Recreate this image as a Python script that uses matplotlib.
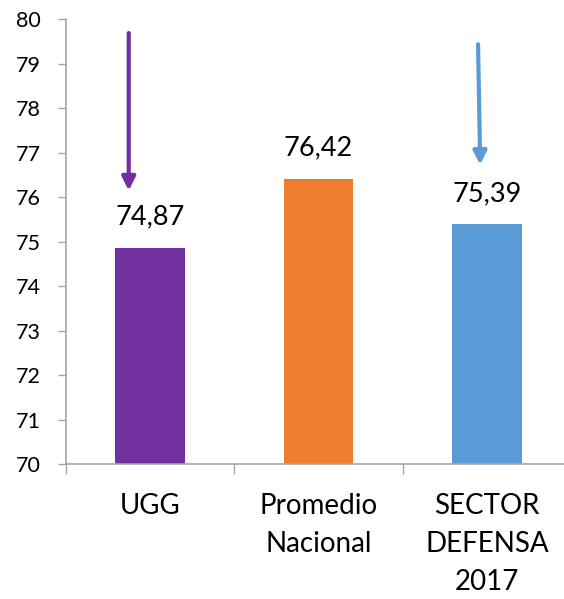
import matplotlib
matplotlib.use('Agg')
import matplotlib.pyplot as plt
import numpy as np

# chart data
categories = ['UGG', 'Promedio\nNacional', 'SECTOR\nDEFENSA\n2017']
values = [74.87, 76.42, 75.39]
value_labels = ['74,87', '76,42', '75,39']
bar_colors = ['#7030A0', '#ED7D31', '#5B9BD5']
y_ticks = list(range(70, 81))

# arrows (x offset from category, y start, y end)
arrow_x = [(-0.126, -0.126), (1.947, 1.96)]
arrow_y = [(79.69, 76.15), (79.44, 76.73)]
arrow_colors = ['#7030A0', '#5B9BD5']

plt.rcParams['font.family'] = ['Lato', 'DejaVu Sans']

fig = plt.figure(figsize=(5.64, 5.99), dpi=100)
ax = fig.add_axes([0.1165, 0.2249, 0.8963, 0.7429])

x_pos = np.arange(len(categories))
ax.bar(x_pos, np.array(values) - 70, bottom=70, width=0.41, color=bar_colors)

for i, v in enumerate(values):
    ax.annotate(value_labels[i], (x_pos[i], v), xytext=(0, 13),
                textcoords='offset points', ha='center', va='bottom',
                fontsize=19.5)

for (x0, x1), (y0, y1), c in zip(arrow_x, arrow_y, arrow_colors):
    ax.annotate('', xy=(x1, y1), xytext=(x0, y0),
                arrowprops=dict(arrowstyle='-|>,head_width=0.4,head_length=0.8',
                                color=c, lw=3, shrinkA=0, shrinkB=0))

ax.set_xlim(-0.5, 2.5)
ax.set_ylim(70, 80)
ax.set_yticks(y_ticks)
ax.set_xticks(x_pos)
ax.set_xticklabels(categories, fontsize=20, linespacing=1.55)
ax.set_xticks([-0.5, 0.5, 1.5, 2.5], minor=True)
ax.tick_params(axis='x', which='major', length=0, pad=21)
ax.tick_params(axis='x', which='minor', length=7.5, color='#A6A6A6', width=1)
ax.tick_params(axis='y', length=6, color='#A6A6A6', width=1, pad=12,
               labelsize=15.5)

for s in ['top', 'right']:
    ax.spines[s].set_visible(False)
for s in ['left', 'bottom']:
    ax.spines[s].set_color('#A6A6A6')
    ax.spines[s].set_linewidth(1.2)

fig.savefig('out.png', dpi=100)
